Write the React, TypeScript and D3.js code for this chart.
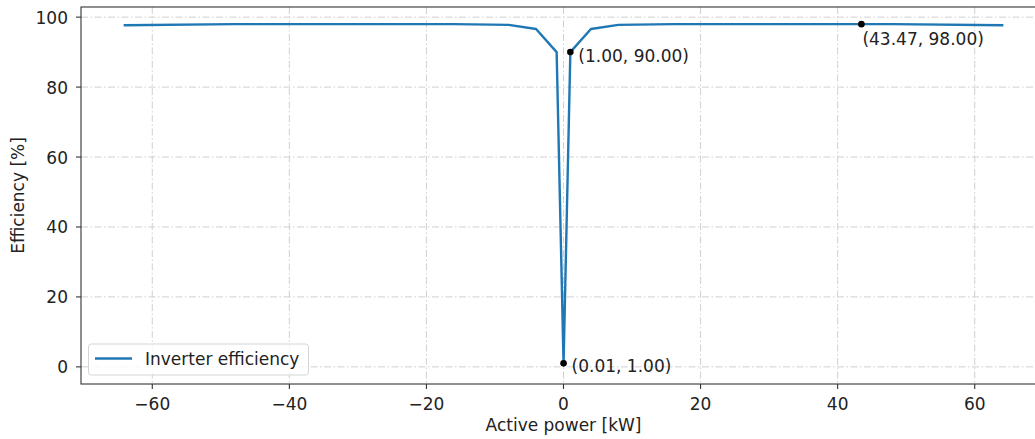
import React from "react";
import * as d3 from "d3";

const powerKW = [-64, -48, -32, -16, -8, -4, -1, 0.01, 1, 4, 8, 16, 32, 43.47, 48, 64];
const efficiency = [97.7, 98, 98, 98, 97.8, 96.6, 90, 1, 90, 96.6, 97.8, 98, 98, 98, 98, 97.7];
const xTicks = [-60, -40, -20, 0, 20, 40, 60];
const yTicks = [0, 20, 40, 60, 80, 100];
const annotations = [
  { x: 1.0, y: 90.0, label: "(1.00, 90.00)", dx: 8, dy: 10 },
  { x: 0.01, y: 1.0, label: "(0.01, 1.00)", dx: 8, dy: 9 },
  { x: 43.47, y: 98.0, label: "(43.47, 98.00)", dx: 1, dy: 21 },
];

const W = 1035;
const H = 439;
const left = 81;
const right = 1046;
const top = 7;
const bottom = 384;
const font = "DejaVu Sans, sans-serif";
const gridColor = "#d0d0d0";
const fs = 17;

export default function App() {
  const x = d3.scaleLinear().domain([-70.4, 70.4]).range([left, right]);
  const y = d3.scaleLinear().domain([-4.9, 102.9]).range([bottom, top]);
  const pts = powerKW.map((p, i) => [p, efficiency[i]] as [number, number]);
  const line = d3.line<[number, number]>().x((d) => x(d[0])).y((d) => y(d[1]));

  return (
    <svg width={W} height={H} style={{ position: "absolute", left: 0, top: 0 }} fontFamily={font}>
      <rect x={0} y={0} width={W} height={H} fill="#fff" />
      {xTicks.map((t) => (
        <line key={"gx" + t} x1={x(t)} x2={x(t)} y1={top} y2={bottom} stroke={gridColor} strokeWidth={1} strokeDasharray="7,2.5,1.5,2.5" />
      ))}
      {yTicks.map((t) => (
        <line key={"gy" + t} x1={left} x2={right} y1={y(t)} y2={y(t)} stroke={gridColor} strokeWidth={1} strokeDasharray="7,2.5,1.5,2.5" />
      ))}
      <path d={line(pts) || ""} fill="none" stroke="#1f77b4" strokeWidth={2.4} strokeLinejoin="round" strokeLinecap="square" />
      {annotations.map((a) => (
        <g key={a.label}>
          <circle cx={x(a.x)} cy={y(a.y)} r={3.3} fill="#000" />
          <text x={x(a.x) + a.dx} y={y(a.y) + a.dy} fontSize={fs} fill="#222">{a.label}</text>
        </g>
      ))}
      <rect x={left} y={top} width={right - left} height={bottom - top} fill="none" stroke="#333" strokeWidth={1.1} />
      {xTicks.map((t) => (
        <g key={"xt" + t}>
          <line x1={x(t)} x2={x(t)} y1={bottom} y2={bottom + 5} stroke="#333" strokeWidth={1.1} />
          <text x={x(t)} y={bottom + 26} textAnchor="middle" fontSize={fs} fill="#222">
            {t < 0 ? "\u2212" + Math.abs(t) : String(t)}
          </text>
        </g>
      ))}
      {yTicks.map((t) => (
        <g key={"yt" + t}>
          <line x1={left - 5} x2={left} y1={y(t)} y2={y(t)} stroke="#333" strokeWidth={1.1} />
          <text x={left - 13} y={y(t) + 6.5} textAnchor="end" fontSize={fs} fill="#222">{t}</text>
        </g>
      ))}
      <text x={x(0)} y={431} textAnchor="middle" fontSize={fs} fill="#222">Active power [kW]</text>
      <text transform={`translate(24, ${(top + bottom) / 2}) rotate(-90)`} textAnchor="middle" fontSize={fs} fill="#222">Efficiency [%]</text>
      <rect x={88.5} y={344} width={220} height={31} rx={3} fill="#fff" fillOpacity={0.8} stroke="#d5d5d5" strokeWidth={1} />
      <line x1={95} x2={132} y1={358.5} y2={358.5} stroke="#1f77b4" strokeWidth={2.4} />
      <text x={145} y={364.5} fontSize={fs} fill="#222">Inverter efficiency</text>
    </svg>
  );
}
